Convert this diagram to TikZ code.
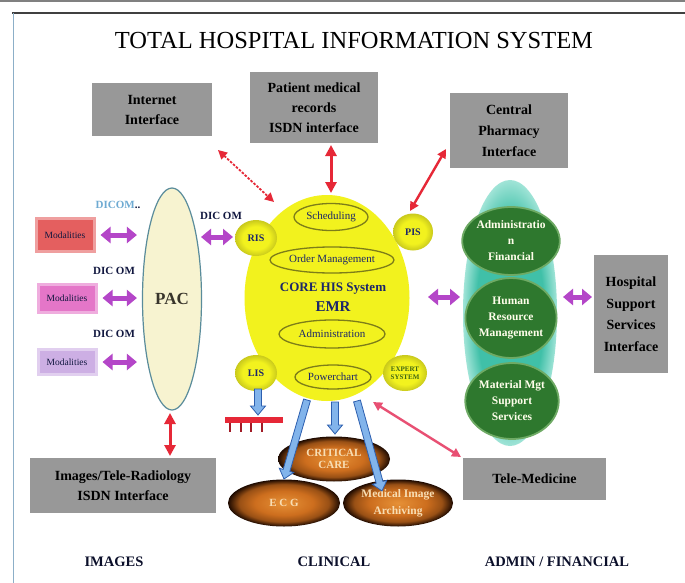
\documentclass[tikz,border=0pt]{standalone}
\usepackage{fontspec}
\setmainfont{Liberation Serif}
\usetikzlibrary{shapes.geometric,arrows.meta,calc}
\definecolor{boxgray}{RGB}{152,152,152}
\definecolor{navy}{RGB}{28,38,105}
\definecolor{coreY}{RGB}{242,242,30}
\definecolor{olivel}{RGB}{125,125,25}
\definecolor{pacfill}{RGB}{247,243,208}
\definecolor{pacline}{RGB}{90,140,155}
\definecolor{tealA}{RGB}{64,192,168}
\definecolor{tealB}{RGB}{160,228,215}
\definecolor{grnA}{RGB}{46,120,46}
\definecolor{grnB}{RGB}{110,170,100}
\definecolor{purp}{RGB}{180,70,200}
\definecolor{redA}{RGB}{230,40,55}
\definecolor{pinkA}{RGB}{232,80,115}
\definecolor{blfill}{RGB}{130,180,235}
\definecolor{blline}{RGB}{45,95,175}
\definecolor{orA}{RGB}{230,145,55}
\definecolor{orB}{RGB}{205,110,30}
\definecolor{orC}{RGB}{30,10,0}
\definecolor{tanc}{RGB}{248,222,180}
\definecolor{modA}{RGB}{228,95,95}
\definecolor{modB}{RGB}{228,118,200}
\definecolor{modC}{RGB}{205,175,228}
\definecolor{lblue}{RGB}{110,170,210}
\definecolor{framel}{RGB}{140,175,200}
\definecolor{expg}{RGB}{60,100,20}
\pgfdeclareradialshading{orball}{\pgfpoint{0bp}{0bp}}{color(0bp)=(orA); color(13bp)=(orB); color(20bp)=(orB!70!orC); color(25bp)=(orC); color(50bp)=(orC)}
\pgfdeclareradialshading{yball}{\pgfpoint{0bp}{0bp}}{color(0bp)=(coreY); color(16bp)=(coreY); color(25bp)=(coreY!65!olivel); color(50bp)=(coreY!65!olivel)}
\pgfdeclareradialshading{tball}{\pgfpoint{0bp}{0bp}}{color(0bp)=(tealA); color(18bp)=(tealA); color(25bp)=(tealB); color(50bp)=(tealB)}
\newcommand\blarrow[2]{%
  \coordinate (bH) at ($(#2)!9pt!(#1)$);
  \filldraw[fill=blfill, draw=blline, line width=0.8pt, line join=miter]
    ($(#1)!3.5pt!90:(#2)$) -- ($(bH)!3.5pt!90:(#2)$) -- ($(bH)!7.5pt!90:(#2)$) -- (#2)
    -- ($(bH)!7.5pt!-90:(#2)$) -- ($(bH)!3.5pt!-90:(#2)$) -- ($(#1)!3.5pt!-90:(#2)$) -- cycle;}
\tikzset{
  gbox/.style={fill=boxgray, inner sep=0pt, align=center, text=black,
    font=\bfseries\fontsize{14}{20}\selectfont},
  modbox/.style={inner sep=0pt, text=navy!60!black, font=\fontsize{9.5}{11}\selectfont},
  parr/.style={purp, line width=5pt, {Triangle[length=10pt,width=16pt]}-{Triangle[length=10pt,width=16pt]}},
  rarr/.style={redA, line width=2.4pt, {Triangle[length=9pt,width=9pt]}-{Triangle[length=9pt,width=9pt]}},
  sat/.style={ellipse, inner sep=0pt, shading=yball, text=navy, font=\bfseries\fontsize{10}{11}\selectfont},
  inel/.style={ellipse, draw=olivel, line width=1.3pt, inner sep=0pt, text=navy, font=\fontsize{11}{12}\selectfont},
  gcirc/.style={ellipse, fill=grnA, draw=grnB, line width=1.8pt, inner sep=0pt, align=center,
    text=white!92!yellow, font=\bfseries\fontsize{11.5}{16}\selectfont},
  oell/.style={ellipse, shading=orball, inner sep=0pt, align=center, text=tanc,
    font=\bfseries\fontsize{11}{17}\selectfont},
  dic/.style={font=\bfseries\fontsize{11}{12}\selectfont, text=navy!60!black},
  blab/.style={font=\bfseries\fontsize{14.5}{16}\selectfont, text=navy!40!black}
}
\begin{document}
\begin{tikzpicture}[x=1pt,y=-1pt]
\useasboundingbox (0,0) rectangle (685,583);
\fill[white] (0,0) rectangle (685,583);
% frame
\draw[gray, line width=2pt] (0,1) -- (685,1);
\draw[black!75, line width=2pt] (12,13) -- (685,13);
\draw[framel, line width=1.8pt] (13.5,13) -- (13.5,583);
% title
\node[font=\fontsize{24.5}{28}\selectfont, text=black] (title) at (354,41) {TOTAL HOSPITAL INFORMATION SYSTEM};
% gray boxes
\node[gbox, minimum width=120pt, minimum height=53pt] (inet) at (152,110) {Internet\\Interface};
\node[gbox, minimum width=128pt, minimum height=71pt] (pmr) at (314,107.5) {Patient medical\\records\\ISDN interface};
\node[gbox, minimum width=118pt, minimum height=75pt, font=\bfseries\fontsize{14}{21}\selectfont] (pharm) at (509,130.5) {Central\\Pharmacy\\Interface};
\node[gbox, minimum width=74pt, minimum height=118pt, font=\bfseries\fontsize{14}{21.5}\selectfont] (hss) at (631,314) {Hospital\\Support\\Services\\Interface};
\node[gbox, minimum width=186pt, minimum height=55pt] (irad) at (123,485.5) {Images/Tele-Radiology\\ISDN Interface};
\node[gbox, minimum width=143pt, minimum height=42pt] (tele) at (534.5,479) {Tele-Medicine};
% PAC and modalities
\node[ellipse, draw=pacline, line width=1.2pt, fill=pacfill, minimum width=59pt, minimum height=222pt, inner sep=0pt,
  font=\bfseries\fontsize{17}{20}\selectfont, text=black!80!olive] (pac) at (172,299) {PAC};
\node[modbox, fill=modA, draw=modA!60!white, line width=3pt, minimum width=58pt, minimum height=33pt] (m1) at (65,235) {Modalities};
\node[modbox, fill=modB, draw=modB!60!white, line width=3pt, minimum width=58pt, minimum height=28pt] (m2) at (67,298) {Modalities};
\node[modbox, fill=modC, draw=modC!60!white, line width=3pt, minimum width=58pt, minimum height=25pt] (m3) at (67,362) {Modalities};
\node[dic] (d0) at (118,205) {\textcolor{lblue}{DICOM}..};
\node[dic] (d1) at (114,271) {DIC OM};
\node[dic] (d2) at (114,334) {DIC OM};
\node[dic] (d3) at (221,216) {DIC OM};
% admin column
\node[ellipse, shading=tball, minimum width=94pt, minimum height=266pt, inner sep=0pt] (teal) at (510,313) {};
\node[gcirc, minimum width=82pt, minimum height=68pt] (adm) at (511,241) {Administratio\\n\\Financial};
\node[gcirc, minimum width=82pt, minimum height=80pt] (hrm) at (511,318) {Human\\Resource\\Management};
\node[gcirc, minimum width=84pt, minimum height=76pt] (mat) at (512,401) {Material Mgt\\Support\\Services};
% core
\node[ellipse, fill=coreY, minimum width=165pt, minimum height=206pt, inner sep=0pt] (core) at (327,298) {};
\node[sat, minimum width=42pt, minimum height=36pt] (ris) at (256,238) {RIS};
\node[sat, minimum width=40pt, minimum height=37pt] (pis) at (413,232) {PIS};
\node[sat, minimum width=42pt, minimum height=36pt] (lis) at (256,373) {LIS};
\node[sat, minimum width=44pt, minimum height=36pt, align=center, text=expg, font=\bfseries\fontsize{7}{8}\selectfont] (exp) at (405,373) {EXPERT\\SYSTEM};
\node[inel, minimum width=74pt, minimum height=27pt] (sch) at (331,217) {Scheduling};
\node[inel, minimum width=124pt, minimum height=26pt] (ord) at (332,260) {Order Management};
\node[inel, minimum width=106pt, minimum height=28pt] (adn) at (332,334) {Administration};
\node[inel, minimum width=76pt, minimum height=24pt] (pow) at (333,377) {Powerchart};
\node[font=\bfseries\fontsize{13}{14}\selectfont, text=navy] (cht) at (333,289) {CORE HIS System};
\node[font=\bfseries\fontsize{15}{16}\selectfont, text=navy] (emr) at (333,307) {EMR};
% clinical ellipses
\node[oell, minimum width=112pt, minimum height=45pt] (crit) at (334,459) {CRITICAL\\[-5pt]CARE};
\node[oell, minimum width=112pt, minimum height=47pt] (ecg) at (284,503) {E C G};
\node[oell, minimum width=110pt, minimum height=47pt, font=\bfseries\fontsize{11.5}{17}\selectfont] (mia) at (398,503) {Medical Image\\Archiving};
% red comb
\fill[redA] (225,417) rectangle (283,423);
\foreach \xx in {229,240,250,261} \fill[redA!70!black] (\xx,423) rectangle (\xx+2.2,432);
% purple arrows
\draw[parr, shorten <=5pt, shorten >=5pt] (m1.east) -- (m1.east -| pac.west);
\draw[parr, shorten <=5pt, shorten >=5pt] (m2.east) -- (m2.east -| pac.west);
\draw[parr, shorten <=5pt, shorten >=5pt] (m3.east) -- (m3.east -| pac.west);
\coordinate (pr1) at (201,237); \coordinate (pr2) at (233,237);
\draw[parr] (pr1) -- (pr2);
\coordinate (pc1) at (428,297); \coordinate (pc2) at (460,297);
\draw[parr] (pc1) -- (pc2);
\coordinate (ph1) at (563,297); \coordinate (ph2) at (592,297);
\draw[parr] (ph1) -- (ph2);
% red arrows
\coordinate (ia) at (218,150); \coordinate (ib) at (274,202);
\draw[redA, line width=1.8pt, dash pattern=on 2.5pt off 1.5pt, {Triangle[length=9pt,width=9pt]}-{Triangle[length=9pt,width=9pt]}] (ia) -- (ib);
\coordinate (pa) at (331,145); \coordinate (pb) at (331,193);
\draw[rarr, line width=3pt, {Triangle[length=11pt,width=11pt]}-{Triangle[length=11pt,width=11pt]}] (pa) -- (pb);
\coordinate (fa) at (446,149); \coordinate (fb) at (410,211);
\draw[rarr] (fa) -- (fb);
\coordinate (ta) at (373,402); \coordinate (tb) at (461,457);
\draw[rarr, pinkA] (ta) -- (tb);
\coordinate (ra) at (170,413); \coordinate (rb) at (170,456);
\draw[rarr, line width=3pt, {Triangle[length=11pt,width=11pt]}-{Triangle[length=11pt,width=11pt]}] (ra) -- (rb);
% blue arrows
\coordinate (l1) at (258,389); \coordinate (l2) at (258,415);
\blarrow{l1}{l2}
\coordinate (e1) at (307,400); \coordinate (e2) at (284,479);
\blarrow{e1}{e2}
\coordinate (c1) at (335,402); \coordinate (c2) at (335,434);
\blarrow{c1}{c2}
\coordinate (a1) at (357,401); \coordinate (a2) at (382,491);
\blarrow{a1}{a2}
% bottom labels
\node[blab] (limg) at (114,562) {IMAGES};
\node[blab] (lcli) at (334,562) {CLINICAL};
\node[blab] (ladm) at (557,562) {ADMIN / FINANCIAL};
\end{tikzpicture}
\end{document}
